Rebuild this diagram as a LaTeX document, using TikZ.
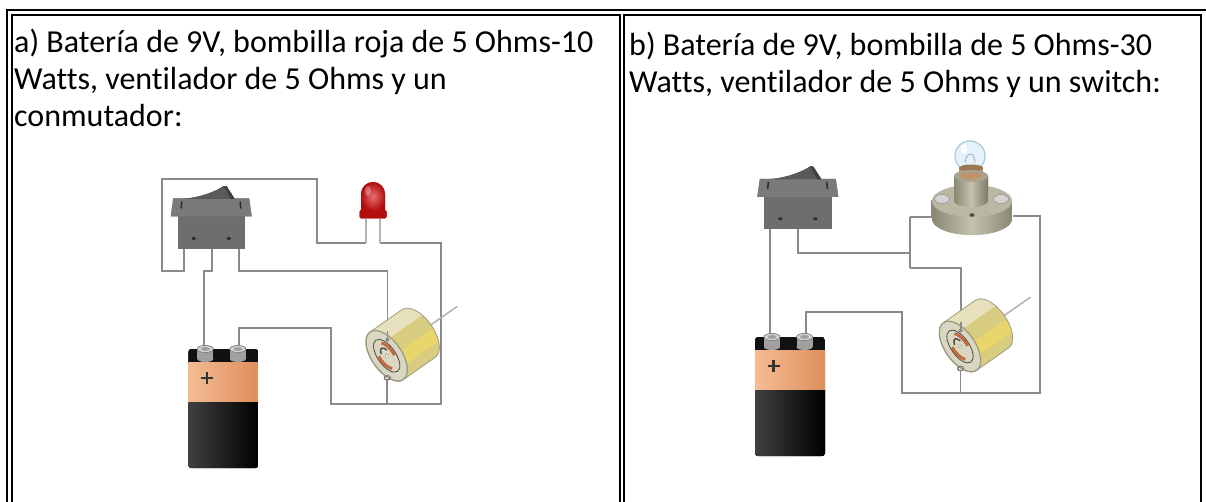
\documentclass[tikz,border=0pt]{standalone}
\usepackage{fontspec}
\setmainfont{Carlito}[Ligatures={NoCommon,NoRequired,NoContextual}]
\definecolor{wirecol}{HTML}{8A8A8A}
\definecolor{legcol}{HTML}{B4B4B4}
\definecolor{swbody}{HTML}{6E6E6E}
\definecolor{swflange}{HTML}{7A7A7A}
\definecolor{swrock}{HTML}{5A5A5A}
\definecolor{swslot}{HTML}{2E2E2E}
\definecolor{cuLight}{HTML}{F4BC94}
\definecolor{cuDark}{HTML}{DE8E5C}
\definecolor{batblack}{HTML}{111111}
\definecolor{termsilver}{HTML}{D4D4D4}
\definecolor{termside}{HTML}{A0A0A0}
\definecolor{motgold}{HTML}{D8CC80}
\definecolor{motpale}{HTML}{E6E0BC}
\definecolor{motbright}{HTML}{E8D66C}
\definecolor{motface}{HTML}{D9D6C2}
\definecolor{motrim}{HTML}{9C987E}
\definecolor{motdark}{HTML}{4A4A40}
\definecolor{copper}{HTML}{C2683A}
\definecolor{ledred}{HTML}{D41212}
\definecolor{ledrim}{HTML}{B30C0C}
\definecolor{lamptop}{HTML}{BAB7A2}
\definecolor{lampside}{HTML}{8A8772}
\definecolor{lampmid}{HTML}{C4C1AE}
\definecolor{socket}{HTML}{C09469}
\definecolor{glass}{HTML}{E6F2FA}
\definecolor{glassedge}{HTML}{A7C6DA}
\tikzset{
  border/.style={line width=2pt},
  txt/.style={font=\fontsize{32}{37}\selectfont, inner sep=0pt, anchor=base west},
  wire/.style={draw=wirecol, line width=1.7pt},
  % 9V battery, origin at the top left corner of the casing
  battery/.pic={
    \begin{scope}
      \clip[rounded corners=3] (0,0) rectangle (70,119);
      \fill[batblack] (0,0) rectangle (70,119);
      \shade[left color=cuLight, right color=cuDark] (0,13) rectangle (70,53);
      \shade[left color=black!75, right color=black] (0,53) rectangle (70,119);
    \end{scope}
    \foreach \cx in {17,49.5}{
      \fill[termside] (\cx-8,0) rectangle (\cx+8,10);
      \fill[termside] (\cx,10) ellipse [x radius=8, y radius=3];
      \fill[termsilver, draw=black!55, line width=0.5pt] (\cx,0) ellipse [x radius=8, y radius=3.5];
      \fill[termside] (\cx,0) ellipse [x radius=4.5, y radius=2];
    }
    \draw[black!80, line width=2.2pt] (12.5,29) -- (24.5,29) (18.5,23) -- (18.5,35);
    \coordinate (-t1) at (16,-1);
    \coordinate (-t2) at (51,-1);
  },
  % rocker switch, origin at the top left corner of the flange
  rocker/.pic={
    \fill[swbody] (7,17) rectangle (74.5,51);
    \fill[swflange] (0,18.5) -- (2.5,0.5) -- (78.5,0.5) -- (81,18.5) -- cycle;
    \fill[swrock] (10,1) .. controls (28,0) and (44,-6) .. (53,-12) -- (56,-11.5) -- (64,1) -- cycle;
    \fill[black!75] (53,-12) -- (56,-11.5) -- (64,1) -- (60,1) -- cycle;
    \draw[swslot, line width=1.6pt, line cap=round] (11,4) -- (10.5,10) (69.5,4) -- (70,10);
    \fill[swslot] (23,40.5) ellipse [x radius=2.2, y radius=1.6];
    \fill[swslot] (58,40.5) ellipse [x radius=2.2, y radius=1.6];
    \coordinate (-p1) at (13,50);
    \coordinate (-p2) at (41,50);
    \coordinate (-p3) at (68.6,50);
  },
  % small DC motor, origin at the centre of the front face
  motor/.pic={
    \begin{scope}[rotate=35]
      \draw[legcol, line width=1.3pt] (38,0) -- (86,0);
      \path[save path=\motbody] (0,-29) -- (39,-29)
        arc[start angle=-90, end angle=90, x radius=15, y radius=29] -- (0,29) -- cycle;
      \fill[motgold, use path=\motbody];
      \begin{scope}
        \clip[use path=\motbody];
        \fill[motpale] (0,-40) rectangle (60,-13);
        \fill[motbright] (0,4) rectangle (60,18);
      \end{scope}
      \draw[motrim, line width=0.6pt, use path=\motbody];
      \fill[motface, draw=motrim, line width=1.2pt] (0,0) ellipse [x radius=15, y radius=29];
      \draw[motdark, line width=0.8pt] (0,0) ellipse [x radius=9, y radius=19];
      \draw[copper, line width=2.8pt] (115:7 and 15) arc[start angle=115, end angle=195, x radius=7, y radius=15];
      \draw[copper, line width=2.8pt] (295:7 and 15) arc[start angle=295, end angle=375, x radius=7, y radius=15];
      \draw[motdark, line width=1.4pt] (210:4 and 9) arc[start angle=210, end angle=330, x radius=4, y radius=9];
      \fill[white, draw=motrim, line width=0.5pt] (0,0) circle (1.8);
    \end{scope}
    \draw[wirecol, line width=1.7pt] (0.7,-25) -- (0.7,-16);
    \fill[wirecol] (0.7,-16) circle (2);
    \draw[black!55, line width=1pt] (0.6,22) ellipse [x radius=3, y radius=2.2];
    \coordinate (-top) at (0.7,-16);
    \coordinate (-bot) at (0.6,24);
  },
  % red LED, origin at the bottom of the dome
  led/.pic={
    \draw[legcol, line width=2.4pt] (-7,-3) -- (-7,23.3) (7,-3) -- (7,23.3);
    \fill[ledrim, rounded corners=2] (-13.5,-1.5) rectangle (13.5,-10);
    \shade[inner color=ledred!60!white, outer color=ledrim]
      (-12,-9) -- (-12,-26) arc[start angle=180, end angle=360, radius=12] -- (12,-9) -- cycle;
    \fill[white, opacity=0.3] (-5,-29) ellipse [x radius=3, y radius=5];
    \coordinate (-l) at (-7,23.3);
    \coordinate (-r) at (7,23.3);
  },
  % lamp on a round holder, origin at the centre of the holder's top face
  lamp/.pic={
    % holder disc
    \shade[left color=lampside, right color=lampside, middle color=lampmid]
      (-40,0) -- (-40,18) arc[start angle=180, end angle=0, x radius=40, y radius=16] -- (40,0) -- cycle;
    \fill[lamptop] (0,0) ellipse [x radius=40, y radius=16];
    % screws
    \foreach \sx in {-30,29}{
      \fill[termsilver, draw=black!45, line width=0.5pt] (\sx,-2) ellipse [x radius=7.5, y radius=4.5];
    }
    \fill[black!70] (0,14) ellipse [x radius=2.5, y radius=1.8];
    % glass bulb
    \fill[glass, draw=glassedge, line width=1pt] (-2,-45) circle (15);
    \draw[glassedge!80!black, line width=0.6pt] (-7,-38) .. controls (-6,-50) and (3,-50) .. (3,-38);
    \fill[white, opacity=0.8] (-8,-52) ellipse [x radius=3.5, y radius=5];
    % socket and post
    \fill[socket] (-13,-33) rectangle (11,-25);
    \fill[socket!80!black] (-1,-33) ellipse [x radius=12, y radius=3.5];
    \shade[left color=lampside, right color=lampside!90!black, middle color=lampmid]
      (-18,-25) -- (-18,0) arc[start angle=180, end angle=0, x radius=17, y radius=6] -- (16,-25) -- cycle;
    \fill[lampmid!85!black] (-1,-25) ellipse [x radius=17, y radius=6];
    \fill[socket] (-1,-25) ellipse [x radius=11, y radius=3.8];
    \coordinate (-l) at (-40.3,-1);
    \coordinate (-r) at (40.7,15);
  },
}
\begin{document}
\begin{tikzpicture}[x=1pt, y=-1pt]
\useasboundingbox (0,0) rectangle (1206,502);

% table frame
\begin{scope}
  \clip (0,0) rectangle (1206,502);
  \draw[border] (7,520) -- (7,10) -- (1230,10);
  \draw[border] (12,520) -- (12,15) -- (620,15) -- (620,520);
  \draw[border] (624,520) -- (624,15) -- (1201,15) -- (1201,520);
\end{scope}

% cell texts
\node[txt] (ta1) at (14,53) {a) Batería de 9V, bombilla roja de 5 Ohms-10};
\node[txt] (ta2) at (14,90) {Watts, ventilador de 5 Ohms y un};
\node[txt] (ta3) at (14,127) {conmutador:};
\node[txt] (tb1) at (629,56) {b) Batería de 9V, bombilla de 5 Ohms-30};
\node[txt] (tb2) at (629,93) {Watts, ventilador de 5 Ohms y un switch:};

% ---------- circuit a ----------
\coordinate (busA) at (0,270.7);
\coordinate (jA1) at (161.7,179.3);
\coordinate (jA2) at (316.7,243.3);
\coordinate (jA3) at (331,328.3);
\coordinate (jA4) at (441,404.3);
\path (170.7,198) coordinate (swAo) (188.3,349) coordinate (batAo)
      (386.7,355.8) coordinate (motAo) (373,220) coordinate (ledAo);
% the parts are placed once to define their terminals
\path (swAo) pic (swA) {rocker};
\path (batAo) pic (batA) {battery};
\path (motAo) pic (motA) {motor};
\path (ledAo) pic (ledA) {led};
% wires run under the parts: draw them, then the parts again on top
\draw[wire] (swA-p1) -- (swA-p1 |- busA) -| (jA1) -| (jA2) -| (ledA-l);
\draw[wire] (swA-p2) -- (swA-p2 |- busA) -| (batA-t1);
\draw[wire] (swA-p3) -- (swA-p3 |- busA) -| (motA-top);
\draw[wire] (batA-t2) |- (jA3) |- (jA4) |- (ledA-r |- jA2) -- (ledA-r);
\draw[wire] (motA-bot) -- (motA-bot |- jA4);
\path (swAo) pic {rocker};
\path (batAo) pic {battery};
\path (motAo) pic {motor};
\path (ledAo) pic {led};

% ---------- circuit b ----------
\coordinate (jB1) at (910,253.3);
\coordinate (jB2) at (910,216.7);
\coordinate (jB3) at (910,268.3);
\coordinate (jB4) at (902.3,312.3);
\coordinate (jB5) at (1040,393.3);
\path (757.3,178.3) coordinate (swBo) (755,337) coordinate (batBo)
      (960,346.5) coordinate (motBo) (972,201) coordinate (lampBo);
\path (swBo) pic (swB) {rocker};
\path (batBo) pic (batB) {battery};
\path (motBo) pic (motB) {motor};
\path (lampBo) pic (lampB) {lamp};
\draw[wire] (swB-p1) -- (swB-p1 |- batB-t1);
\draw[wire] (swB-p2) |- (jB1);
\draw[wire] (jB2) -- (jB3);
\draw[wire] (jB2) -| (lampB-l);
\draw[wire] (jB3) -| (motB-top);
\draw[wire] (batB-t2) |- (jB4) |- (jB5) |- (lampB-r);
\draw[wire] (motB-bot) -- (motB-bot |- jB5);
\path (swBo) pic {rocker};
\path (batBo) pic {battery};
\path (motBo) pic {motor};
\path (lampBo) pic {lamp};
\end{tikzpicture}
\end{document}
